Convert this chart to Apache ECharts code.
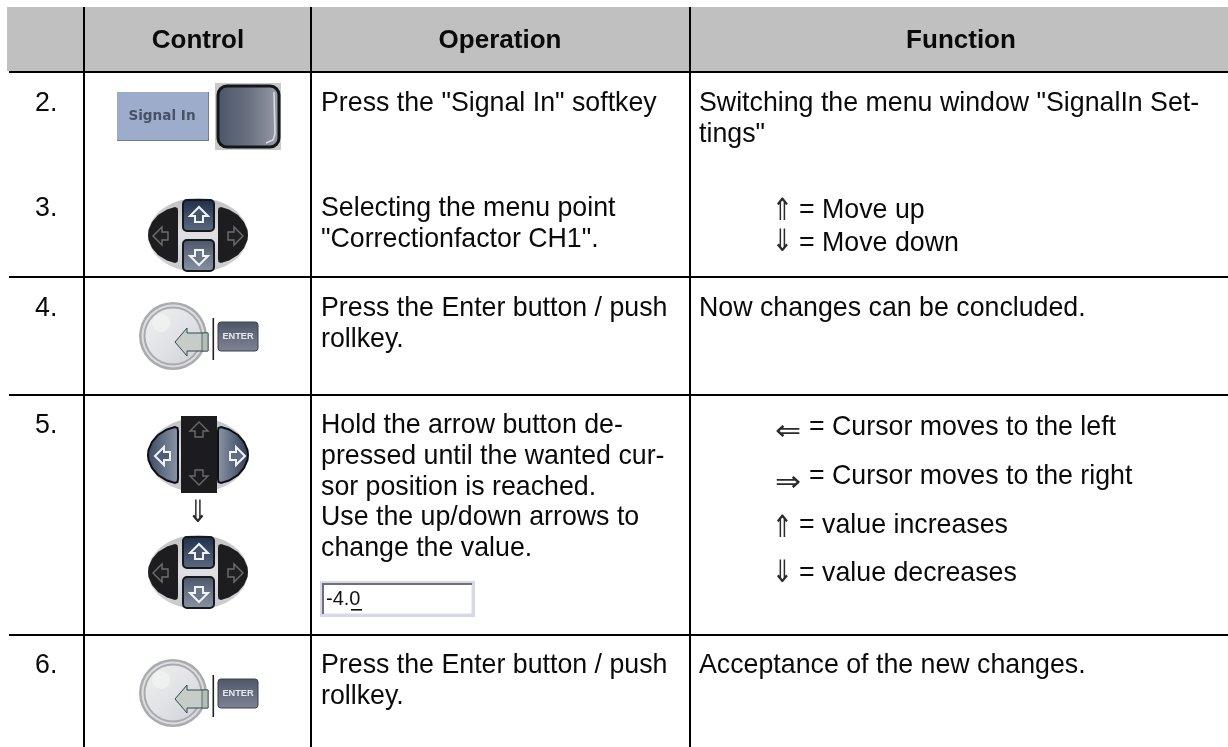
<!DOCTYPE html>
<html><head><meta charset="utf-8">
<style>html,body{margin:0;padding:0;background:#fff}#c{width:1228px;height:747px}</style>
<script src="https://cdn.jsdelivr.net/npm/echarts@6/dist/echarts.min.js"></script>
</head><body><div id="c"></div>
<script>
const headers = ["Control", "Operation", "Function"];
const rowNumbers = ["2.", "3.", "4.", "5.", "6."];
const operationLines = [
  ['Press the "Signal In" softkey'],
  ['Selecting the menu point', '"Correctionfactor CH1".'],
  ['Press the Enter button / push', 'rollkey.'],
  ['Hold the arrow button de-', 'pressed until the wanted cur-', 'sor position is reached.', 'Use the up/down arrows to', 'change the value.'],
  ['Press the Enter button / push', 'rollkey.']
];
const functionPlain = [
  ['Switching the menu window "SignalIn Set-', 'tings"'],
  ['Now changes can be concluded.'],
  ['Acceptance of the new changes.']
];
const functionKeyed = [
  ['⇑', '= Move up'], ['⇓', '= Move down'],
  ['⇐', '= Cursor moves to the left'], ['⇒', '= Cursor moves to the right'],
  ['⇑', '= value increases'], ['⇓', '= value decreases']
];
const softkeyLabel = "Signal In";
const enterLabel = "ENTER";
const inputValue = "-4.0";

const FONT = '"Liberation Sans", Arial, sans-serif';
const FS = 26.76;
const g = [];
const txt = (s, x, base, opt = {}) => {
  const fs = opt.size || FS;
  return { type: 'text', x, y: base - fs * 0.355, z: opt.z || 5,
    style: { text: s, fill: opt.fill || '#0a0a0a', fontSize: fs, fontFamily: opt.family || FONT,
      fontWeight: opt.weight || 'normal', textAlign: opt.align || 'left', textVerticalAlign: 'middle' } };
};
const rect = (x, y, w, h, fill, extra = {}) => ({ type: 'rect', shape: { x, y, width: w, height: h, r: extra.r || 0 },
  style: { fill, stroke: extra.stroke, lineWidth: extra.lw }, z: extra.z || 2 });
const grad = (x0, y0, x1, y1, stops) => ({ type: 'linear', x: x0, y: y0, x2: x1, y2: y1,
  colorStops: stops.map((c, i) => ({ offset: i / (stops.length - 1), color: c })) });

/* table frame */
g.push(rect(7, 7, 1221, 64, '#c0c0c0', { z: 0 }));
g.push(rect(75, 7, 1, 64, '#cbcbcb', { z: 1 }), rect(93, 7, 1, 64, '#cbcbcb', { z: 1 }));
g.push(rect(8, 7, 10, 1, '#d2d2d2', { z: 1 }), rect(302, 7, 1, 64, '#c6c6c6', { z: 1 }));
[71, 276, 394, 634].forEach(y => g.push(rect(9, y, 1219, 2, '#000', { z: 3 })));
[83, 310, 689].forEach(x => g.push(rect(x, 7, 2, 740, '#000', { z: 3 })));

/* headers */
[198, 500, 961].forEach((x, i) => g.push(txt(headers[i], x, 50, { weight: 'bold', align: 'center', size: 26 })));

/* numbers */
[113, 218, 318, 435, 675].forEach((b, i) => g.push(txt(rowNumbers[i], 35, b)));

/* operation text */
[[113], [218, 249], [318, 349], [435, 466, 497, 527, 558], [675, 706]].forEach((bs, i) =>
  bs.forEach((b, j) => g.push(txt(operationLines[i][j], 321, b))));

/* function text */
[[113, 144], [318], [675]].forEach((bs, i) =>
  bs.forEach((b, j) => g.push(txt(functionPlain[i][j], 699, b))));

/* keyed function lines: glyph x, glyph y, text x, baseline, vertical */
const keyedPos = [
  [782.5, 212, 799, 220, 1], [782.5, 243.5, 799, 253, 1],
  [788, 433, 809, 437, 0], [788, 484, 809, 486, 0],
  [782.5, 529, 799, 535, 1], [782.5, 574.5, 799, 583, 1]
];
const arrowGlyph = (s, cx, cy, vertical) => ({
  type: 'text', x: cx, y: cy, z: 5, scaleX: vertical ? 1.05 : 1.3, scaleY: vertical ? 1.28 : 1.2,
  style: { text: s, fill: '#2a2a2a', fontSize: 24, fontFamily: '"DejaVu Sans"', textAlign: 'center', textVerticalAlign: 'middle' } });
functionKeyed.forEach((k, i) => {
  const p = keyedPos[i];
  g.push(arrowGlyph(k[0], p[0], p[1], !!p[4]));
  g.push(txt(k[1], p[2], p[3]));
});
g.push(arrowGlyph('⇓', 198, 514, true));

/* icons */
function softkey() {
  g.push(rect(117, 92, 92, 49, '#6f7d8c', { z: 2 }));
  g.push(rect(117, 92, 91, 48, '#9daccb', { z: 2 }));
  g.push(txt(softkeyLabel, 162, 121, { size: 13.6, align: 'center', fill: '#465266', weight: 'bold', family: '"DejaVu Sans"' }));
  g.push(rect(215, 83, 66, 67, '#c9c9c9', { z: 2 }));
  g.push(rect(218, 86, 61, 61, grad(0, 0, 1, 0, ['#4a5468', '#6a7080', '#9a9ea8']), { r: 9, z: 3, stroke: '#14161a', lw: 3 }));
  g.push({ type: 'polyline', z: 4, shape: { points: [[274, 92], [275, 134], [273, 140], [266, 143]] }, style: { fill: 'none', stroke: '#d8dbe0', lineWidth: 1.6 } });
}
const blockArrow = (dir, stroke, fill, lw) => {
  const up = [[0, -9], [9, 0], [4, 0], [4, 6], [-4, 6], [-4, 0], [-9, 0]];
  const f = { up: p => p, down: p => [p[0], -p[1]], left: p => [p[1], p[0]], right: p => [-p[1], p[0]] }[dir];
  return { type: 'polygon', z: 5, shape: { points: up.map(f) }, style: { fill, stroke, lineWidth: lw } };
};
const leftPts = [[-23, -28], [-31, -25.5], [-40, -20], [-46, -13], [-49.5, -5], [-50, 0], [-49.5, 5], [-46, 13], [-40, 20], [-31, 25.5], [-23, 28], [-20.5, 27], [-20, 24], [-20, -24], [-20.5, -27]];
const rightPts = leftPts.map(p => [-p[0], p[1]]);
const crescent = (points, fill, stroke, lw) => ({ type: 'polygon', z: 3, shape: { points }, style: { fill, stroke, lineWidth: lw } });
function pad(cy, verticalActive) {
  const kids = [];
  kids.push({ type: 'circle', z: 2, scaleY: 0.74, shape: { cx: 0, cy: 0, r: 50 }, style: { fill: grad(0, 0, 0, 1, ['#bfc0c4', '#e0e0e4', '#c8c8cc']) } });
  const darkFill = '#1d1d20';
  const activeV = grad(0, 0, 0, 1, ['#1f2e48', '#5d6b82']);
  const activeD = grad(0, 0, 0, 1, ['#4a5568', '#8a93a3']);
  if (verticalActive) {
    kids.push(crescent(leftPts, darkFill), crescent(rightPts, darkFill));
    kids.push(rect(-15, -35, 31, 31, activeV, { r: 4, stroke: '#15181e', lw: 2, z: 3 }));
    kids.push(rect(-15, 5, 31, 31, activeD, { r: 4, stroke: '#15181e', lw: 2, z: 3 }));
    const a1 = blockArrow('up', '#f0f3f6', '#46546a', 2); a1.x = 1; a1.y = -19;
    const a2 = blockArrow('down', '#f0f3f6', '#6a7588', 2); a2.x = 1; a2.y = 21;
    const a3 = blockArrow('left', '#6e6e6e', '#202022', 1.4); a3.x = -36; a3.y = 1;
    const a4 = blockArrow('right', '#6e6e6e', '#202022', 1.4); a4.x = 36; a4.y = 1;
    kids.push(a1, a2, a3, a4);
  } else {
    kids.push(rect(-17, -39, 36, 77, '#1c1c1f', { z: 3 }));
    kids.push(crescent(leftPts, grad(0, 0, 1, 0, ['#3a4a62', '#8c96a8']), '#0f1014', 2));
    kids.push(crescent(rightPts, grad(0, 0, 1, 0, ['#8c96a8', '#2e3c54']), '#0f1014', 2));
    const a1 = blockArrow('up', '#6a6a6a', '#1c1c1f', 1.4); a1.x = 1; a1.y = -24;
    const a2 = blockArrow('down', '#6a6a6a', '#1c1c1f', 1.4); a2.x = 1; a2.y = 21;
    const a3 = blockArrow('left', '#f0f3f6', '#4f5c72', 2); a3.x = -34; a3.y = 1;
    const a4 = blockArrow('right', '#f0f3f6', '#5f6c82', 2); a4.x = 38; a4.y = 1;
    kids.push(a1, a2, a3, a4);
  }
  g.push({ type: 'group', x: 198, y: cy, children: kids });
}
function knobEnter(cy) {
  const kids = [];
  kids.push({ type: 'circle', z: 2, shape: { cx: 0, cy: 0, r: 34 }, style: { fill: '#a9abae' } });
  kids.push({ type: 'circle', z: 2, shape: { cx: 0, cy: 0, r: 31.5 }, style: { fill: '#dcdde0' } });
  kids.push({ type: 'circle', z: 2, shape: { cx: 0, cy: 0, r: 29.5 }, style: { fill: '#a8aaad' } });
  kids.push({ type: 'circle', z: 2, shape: { cx: 0, cy: 0, r: 27.5 }, style: { fill: grad(0, 0, 1, 1, ['#eeeff0', '#e2e3e6', '#cfd1d6']) } });
  kids.push({ type: 'circle', z: 3, shape: { cx: -12, cy: -13, r: 9 }, style: { fill: '#f4f4f4', opacity: 0.7 } });
  kids.push({ type: 'polygon', z: 4, shape: { points: [[2, 6], [14, -8], [14, -3], [35, -3], [35, 15], [14, 15], [14, 20]] },
    style: { fill: '#c8ccc8', stroke: '#2c4a48', lineWidth: 1 } });
  kids.push(rect(29, -3, 6, 18, '#b6bcb8', { z: 4, stroke: '#3d5a58', lw: 0.8 }));
  kids.push(rect(39.5, -18, 1.6, 42, '#222', { z: 4 }));
  kids.push(rect(45, -14, 40, 29, grad(0, 0, 0, 1, ['#4e5668', '#7f8494']), { r: 3, z: 4, stroke: '#3a404e', lw: 1 }));
  g.push({ type: 'group', x: 173, y: cy, children: kids });
  g.push(txt(enterLabel, 238, cy + 4, { size: 9.2, weight: 'bold', align: 'center', fill: '#e6e8ee' }));
}
function inputBox() {
  g.push(rect(320, 581, 155, 36, '#d6d6f0', { z: 2 }));
  g.push(rect(323, 584, 149, 30, '#ffffff', { z: 2, stroke: '#dcdcdc', lw: 1 }));
  g.push(rect(322, 583, 150, 2, '#707070', { z: 3 }), rect(322, 583, 2, 31, '#707070', { z: 3 }));
  g.push(txt(inputValue, 326, 607, { size: 20, fill: '#111' }));
  g.push(rect(351, 609, 11, 1.6, '#111', { z: 4 }));
}
softkey();
pad(235, true);
knobEnter(336);
pad(455, false);
pad(572, true);
inputBox();
knobEnter(693);

const chart = echarts.init(document.getElementById('c'), null, { renderer: 'canvas' });
chart.setOption({ animation: false, backgroundColor: '#ffffff', graphic: { elements: g } });
</script></body></html>
